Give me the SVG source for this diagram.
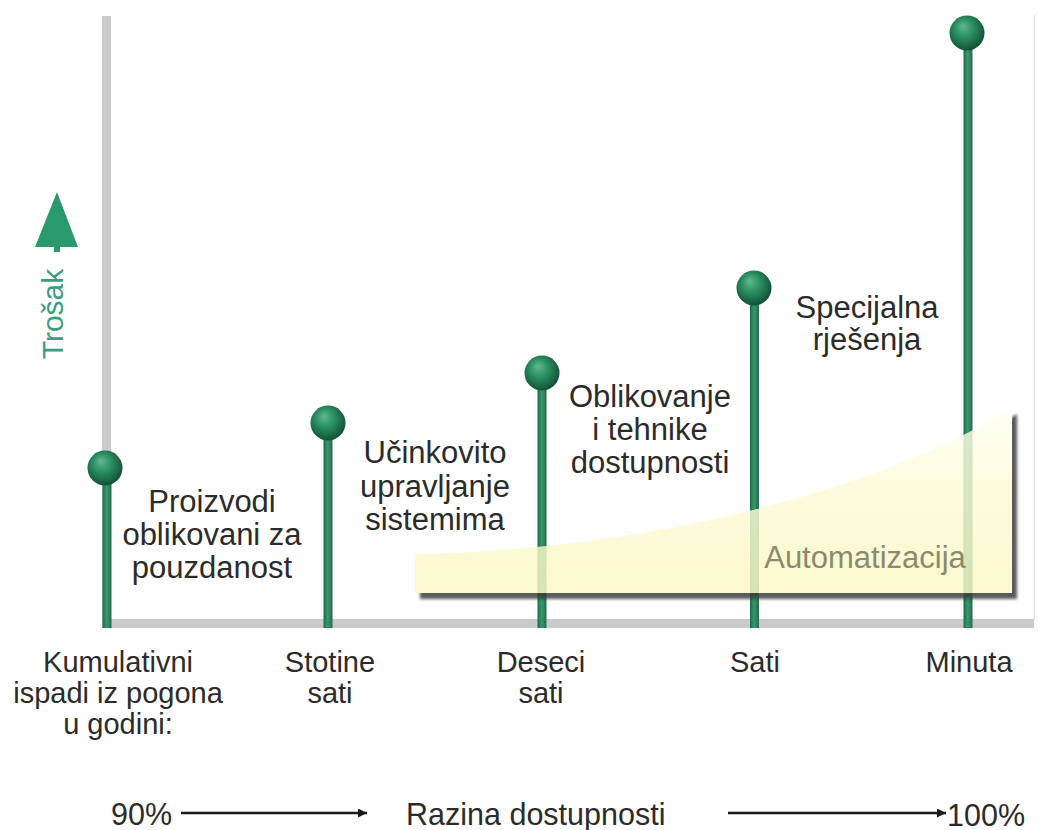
<svg xmlns="http://www.w3.org/2000/svg" xmlns:xlink="http://www.w3.org/1999/xlink" width="1038" height="830" viewBox="0 0 1038 830">
<style>
.lbl{font-family:"Liberation Sans",Arial,sans-serif;font-size:31px;fill:#2b2b2b;text-anchor:middle}
.ax{font-family:"Liberation Sans",Arial,sans-serif;font-size:29px;fill:#2b2b2b;text-anchor:middle}
.row{font-family:"Liberation Sans",Arial,sans-serif;font-size:30.5px;fill:#2b2b2b}
.stem{fill:url(#stemG)}
.ball{fill:url(#ballG)}
.axis{fill:#cacaca}
.arrow{stroke:#1a1a1a;stroke-width:2.5;fill:none}
</style>
<defs>
<radialGradient id="ballG" cx="0.45" cy="0.42" r="0.55" fx="0.38" fy="0.3">
<stop offset="0" stop-color="#62b98c"/>
<stop offset="0.45" stop-color="#2d9365"/>
<stop offset="0.85" stop-color="#1b6846"/>
<stop offset="1" stop-color="#145538"/>
</radialGradient>
<linearGradient id="stemG" x1="0" y1="0" x2="1" y2="0">
<stop offset="0" stop-color="#1d6a47"/>
<stop offset="0.45" stop-color="#37996b"/>
<stop offset="1" stop-color="#1f6e4a"/>
</linearGradient>
<linearGradient id="autoG" gradientUnits="userSpaceOnUse" x1="0" y1="405" x2="0" y2="593">
<stop offset="0" stop-color="#fffff4"/>
<stop offset="0.4" stop-color="#fdfbd8"/>
<stop offset="1" stop-color="#faf7c4"/>
</linearGradient>
<filter id="blur" x="-5%" y="-5%" width="110%" height="120%">
<feGaussianBlur stdDeviation="1.6"/>
</filter>
<path id="autoShape" d="M415,554 C650,550 880,490 1012,408 L1012,593 L415,593 Z"/>
<mask id="outside" maskUnits="userSpaceOnUse" x="0" y="0" width="1038" height="830">
<rect x="0" y="0" width="1038" height="830" fill="#fff"/>
<use xlink:href="#autoShape" fill="#000"/>
</mask>
<marker id="ah" viewBox="0 0 10 10" refX="10" refY="5" markerWidth="8" markerHeight="3.6" markerUnits="strokeWidth" orient="auto">
<path d="M0,0 L10,5 L0,10 Z" fill="#1a1a1a"/>
</marker>
</defs>
<rect width="1038" height="830" fill="#ffffff"/>

<g id="axes">
<rect class="axis" x="102" y="16" width="9" height="612"/>
<rect class="axis" x="102" y="619" width="932" height="9"/>
<line x1="1034.5" y1="15" x2="1034.5" y2="620" stroke="#e2e2e2" stroke-width="1.5"/>
</g>

<g id="cost-axis">
<polygon points="57,192 78,247 35,247" fill="#2a9a6c"/>
<rect x="54" y="246" width="6" height="6" fill="#2a9a6c"/>
<text transform="translate(63,314) rotate(-90)" style="font-family:'Liberation Sans',Arial,sans-serif;font-size:30px;fill:#3c9c82;text-anchor:middle">Trošak</text>
</g>

<g id="pin-kumulativni">
<rect class="stem" x="102.5" y="468" width="9" height="160"/>
<circle class="ball" cx="105" cy="468" r="17.5"/>
</g>
<g id="pin-stotine">
<rect class="stem" x="323.5" y="423" width="9" height="205"/>
<circle class="ball" cx="328" cy="423" r="17.5"/>
</g>
<g id="pin-deseci">
<rect class="stem" x="537.5" y="373" width="9" height="255"/>
<circle class="ball" cx="542" cy="373" r="17.5"/>
</g>
<g id="pin-sati">
<rect class="stem" x="750" y="288" width="9" height="340"/>
<circle class="ball" cx="754" cy="288" r="17.5"/>
</g>
<g id="pin-minuta">
<rect class="stem" x="963.5" y="33" width="9" height="595"/>
<circle class="ball" cx="967" cy="33" r="17.5"/>
</g>

<g id="automatizacija">
<g mask="url(#outside)">
<use xlink:href="#autoShape" transform="translate(5,6)" fill="#3c3c3c" opacity="0.85" filter="url(#blur)"/>
</g>
<use xlink:href="#autoShape" fill="url(#autoG)" opacity="0.82"/>
<text x="865" y="568" style="font-family:'Liberation Sans',Arial,sans-serif;font-size:31px;fill:#8b8b6c;text-anchor:middle">Automatizacija</text>
</g>

<g id="label-proizvodi">
<text class="lbl" x="212" y="512">Proizvodi</text>
<text class="lbl" x="212" y="545">oblikovani za</text>
<text class="lbl" x="212" y="578">pouzdanost</text>
</g>
<g id="label-ucinkovito">
<text class="lbl" x="435" y="463">Učinkovito</text>
<text class="lbl" x="435" y="496.5">upravljanje</text>
<text class="lbl" x="435" y="530">sistemima</text>
</g>
<g id="label-oblikovanje">
<text class="lbl" x="650" y="407">Oblikovanje</text>
<text class="lbl" x="650" y="440">i tehnike</text>
<text class="lbl" x="650" y="473">dostupnosti</text>
</g>
<g id="label-specijalna">
<text class="lbl" x="867" y="318">Specijalna</text>
<text class="lbl" x="867" y="350">rješenja</text>
</g>

<g id="x-labels">
<text class="ax" x="118" y="672">Kumulativni</text>
<text class="ax" x="118" y="703">ispadi iz pogona</text>
<text class="ax" x="118" y="734">u godini:</text>
<text class="ax" x="330" y="672">Stotine</text>
<text class="ax" x="330" y="703">sati</text>
<text class="ax" x="541" y="672">Deseci</text>
<text class="ax" x="541" y="703">sati</text>
<text class="ax" x="755" y="672">Sati</text>
<text class="ax" x="969" y="672">Minuta</text>
</g>

<g id="availability-row">
<text class="row" x="111" y="825">90%</text>
<text class="row" x="406" y="825">Razina dostupnosti</text>
<text class="row" x="947" y="826">100%</text>
</g>

<g id="connectors">
<line class="arrow" x1="181" y1="813" x2="367" y2="813" marker-end="url(#ah)"/>
<line class="arrow" x1="728" y1="813" x2="946" y2="813" marker-end="url(#ah)"/>
</g>
</svg>
